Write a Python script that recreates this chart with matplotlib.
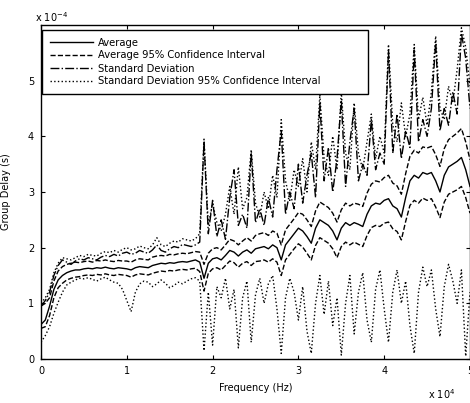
import numpy as np
import matplotlib
matplotlib.use("Agg")
import matplotlib.pyplot as plt

plt.rcParams['font.family'] = ['DejaVu Sans']

# Frequency samples (x 10^4 Hz)
freq = np.linspace(0.0, 5.0, 101)

# Group delay (x 10^-4 s)
avg = [0.62, 0.70, 0.95, 1.25, 1.42, 1.50, 1.55, 1.58, 1.60, 1.60, 1.62,
       1.63, 1.62, 1.64, 1.63, 1.65, 1.63, 1.62, 1.64, 1.63, 1.62,
       1.60, 1.64, 1.66, 1.65, 1.64, 1.68, 1.70, 1.72, 1.71, 1.73,
       1.72, 1.74, 1.75, 1.74, 1.76, 1.78, 1.74, 1.45, 1.72, 1.80,
       1.82, 1.78, 1.86, 1.95, 1.92, 1.85, 1.92, 1.96, 1.90, 1.98,
       2.00, 2.02, 1.98, 2.05, 2.00, 1.78, 2.05, 2.15, 2.25, 2.35,
       2.30, 2.20, 2.08, 2.35, 2.50, 2.45, 2.40, 2.30, 2.14, 2.35,
       2.45, 2.40, 2.45, 2.42, 2.38, 2.60, 2.75, 2.80, 2.78, 2.85,
       2.88, 2.75, 2.70, 2.55, 2.90, 3.20, 3.30, 3.25, 3.35, 3.32,
       3.35, 3.20, 3.00, 3.30, 3.45, 3.50, 3.55, 3.62, 3.40, 3.10]

avg_ci_high = [0.95, 1.00, 1.10, 1.40, 1.58, 1.66, 1.70, 1.72, 1.74, 1.73, 1.75,
               1.76, 1.74, 1.77, 1.76, 1.78, 1.76, 1.75, 1.77, 1.76, 1.76,
               1.74, 1.78, 1.80, 1.79, 1.78, 1.83, 1.85, 1.86, 1.85, 1.88,
               1.87, 1.89, 1.90, 1.89, 1.91, 1.93, 1.92, 1.70, 1.90, 1.98,
               2.00, 1.96, 2.05, 2.15, 2.12, 2.05, 2.12, 2.18, 2.12, 2.22,
               2.25, 2.27, 2.22, 2.30, 2.26, 2.05, 2.32, 2.42, 2.52, 2.63,
               2.60, 2.50, 2.38, 2.66, 2.82, 2.77, 2.72, 2.62, 2.46, 2.68,
               2.80, 2.75, 2.80, 2.78, 2.74, 2.98, 3.14, 3.20, 3.18, 3.26,
               3.30, 3.16, 3.11, 2.96, 3.33, 3.64, 3.75, 3.70, 3.81, 3.79,
               3.82, 3.67, 3.46, 3.78, 3.94, 4.00, 4.06, 4.14, 3.90, 3.58]

avg_ci_low = [0.55, 0.58, 0.78, 1.10, 1.28, 1.36, 1.42, 1.45, 1.47, 1.48, 1.50,
              1.51, 1.50, 1.52, 1.51, 1.53, 1.51, 1.50, 1.52, 1.51, 1.50,
              1.47, 1.51, 1.53, 1.52, 1.51, 1.54, 1.56, 1.58, 1.57, 1.59,
              1.58, 1.60, 1.61, 1.60, 1.62, 1.63, 1.57, 1.22, 1.54, 1.62,
              1.64, 1.60, 1.68, 1.76, 1.73, 1.65, 1.72, 1.75, 1.68, 1.75,
              1.76, 1.78, 1.74, 1.80, 1.74, 1.50, 1.78, 1.88, 1.98, 2.07,
              2.01, 1.90, 1.78, 2.04, 2.18, 2.13, 2.08, 1.98, 1.82, 2.02,
              2.10, 2.05, 2.10, 2.06, 2.02, 2.22, 2.36, 2.40, 2.38, 2.44,
              2.46, 2.34, 2.29, 2.14, 2.47, 2.76, 2.85, 2.80, 2.89, 2.85,
              2.88, 2.73, 2.54, 2.82, 2.96, 3.00, 3.04, 3.10, 2.90, 2.62]

std_dev = [0.95, 1.05, 1.20, 1.50, 1.68, 1.78, 1.74, 1.70, 1.76, 1.80, 1.78,
           1.82, 1.80, 1.78, 1.83, 1.86, 1.84, 1.88, 1.85, 1.90, 1.92,
           1.88, 1.90, 1.95, 1.92, 1.90, 1.96, 2.05, 1.95, 1.92, 1.98,
           2.02, 2.00, 2.06, 2.04, 2.02, 2.05, 2.10, 3.90, 2.25, 2.85,
           2.20, 2.50, 2.15, 2.90, 3.40, 2.40, 2.60, 2.35, 3.70, 2.45,
           2.70, 2.40, 2.90, 2.55, 3.40, 4.10, 2.60, 3.00, 2.70, 3.50,
           2.80, 3.30, 3.70, 2.90, 4.60, 3.20, 3.80, 3.00, 3.60, 4.65,
           3.10, 3.90, 4.50, 3.20, 3.50, 3.30, 4.30, 3.40, 3.70, 3.50,
           5.55, 3.70, 4.40, 3.60, 4.10, 3.80, 5.55, 3.90, 4.30, 4.00,
           4.50, 5.70, 4.10, 4.50, 4.20, 4.80, 4.40, 5.85, 5.40, 4.50]

std_ci_high = [1.00, 1.10, 1.25, 1.55, 1.72, 1.82, 1.80, 1.78, 1.82, 1.86, 1.84,
               1.88, 1.86, 1.85, 1.90, 1.93, 1.91, 1.95, 1.92, 1.97, 2.00,
               1.96, 1.98, 2.03, 2.00, 1.98, 2.05, 2.18, 2.05, 2.02, 2.08,
               2.12, 2.10, 2.16, 2.14, 2.12, 2.16, 2.25, 3.95, 2.40, 2.80,
               2.45, 2.30, 2.60, 3.10, 2.60, 3.45, 2.70, 2.90, 3.76, 2.80,
               2.55, 3.00, 2.70, 3.30, 2.90, 4.30, 3.20, 2.85, 3.40, 3.10,
               3.60, 3.00, 3.90, 3.40, 4.75, 3.60, 3.30, 4.00, 3.40, 4.80,
               3.70, 3.40, 4.60, 3.70, 3.40, 3.90, 4.40, 3.60, 4.00, 3.70,
               5.65, 4.20, 3.90, 4.60, 4.00, 4.40, 5.65, 4.30, 4.70, 4.20,
               4.80, 5.80, 4.50, 4.30, 4.90, 4.60, 5.20, 5.95, 5.60, 4.90]

std_ci_low = [0.30, 0.42, 0.58, 0.82, 1.02, 1.20, 1.33, 1.38, 1.42, 1.45, 1.44,
              1.46, 1.43, 1.40, 1.44, 1.47, 1.42, 1.38, 1.36, 1.25, 1.05,
              0.85, 1.20, 1.35, 1.40, 1.38, 1.30, 1.35, 1.42, 1.36, 1.28,
              1.32, 1.38, 1.35, 1.40, 1.44, 1.46, 1.40, 0.15, 1.20, 0.25,
              1.30, 1.10, 1.45, 0.90, 1.25, 0.20, 1.10, 1.40, 0.30, 1.15,
              1.45, 1.00, 1.35, 1.50, 0.90, 0.10, 1.10, 1.45, 1.20, 0.70,
              1.30, 0.50, 0.10, 1.00, 1.50, 0.80, 1.40, 0.60, 1.10, 0.07,
              1.00, 1.50, 0.45, 1.20, 1.55, 0.70, 0.30, 1.25, 1.60, 0.90,
              0.30, 1.20, 1.60, 1.00, 1.40, 0.60, 0.10, 1.20, 1.65, 1.30,
              1.60, 0.90, 0.40, 1.30, 1.70, 1.40, 1.00, 1.60, 0.05, 1.20]

x_ticks = [0, 1, 2, 3, 4, 5]
y_ticks = [0, 1, 2, 3, 4, 5]

W, H = 470, 403
fig = plt.figure(figsize=(W / 100, H / 100), dpi=100)
ax = fig.add_axes([41 / W, 1 - 359 / H, 429 / W, 334 / H])

lw = 1.0
l1, = ax.plot(freq, avg, '-', color='k', lw=lw)
l2, = ax.plot(freq, avg_ci_high, '--', color='k', lw=lw)
ax.plot(freq, avg_ci_low, '--', color='k', lw=lw)
l3, = ax.plot(freq, std_dev, '-.', color='k', lw=lw)
l4, = ax.plot(freq, std_ci_high, ':', color='k', lw=lw)
ax.plot(freq, std_ci_low, ':', color='k', lw=lw)

ax.set_xlim(0, 5)
ax.set_ylim(0, 6)
ax.set_xticks(x_ticks)
ax.set_yticks(y_ticks)
ax.tick_params(direction='in', length=3, width=0.8, labelsize=7,
               top=True, right=True, pad=5)
for s in ax.spines.values():
    s.set_linewidth(1.0)

ax.set_xlabel('Frequency (Hz)', fontsize=7, labelpad=5)
ax.set_ylabel('Group Delay (s)', fontsize=7, labelpad=12)

fig.text(35 / W, 1 - 17 / H, r'x 10$^{-4}$', fontsize=7, va='center', ha='left')
fig.text(428 / W, 1 - 394 / H, r'x 10$^{4}$', fontsize=7, va='center', ha='left')

leg = ax.legend([l1, l2, l3, l4],
                ['Average', 'Average 95% Confidence Interval',
                 'Standard Deviation', 'Standard Deviation 95% Confidence Interval'],
                loc='upper left',
                bbox_to_anchor=(42 / W, 1 - 93 / H, 326 / W, 63 / H),
                bbox_transform=fig.transFigure, mode='expand',
                fontsize=7.2, frameon=True,
                fancybox=False, edgecolor='k', framealpha=1, borderaxespad=0,
                handlelength=4.3, handletextpad=0.55, labelspacing=0.3,
                borderpad=0.75)
leg.get_frame().set_linewidth(1.0)

fig.savefig('out.png', dpi=100)
